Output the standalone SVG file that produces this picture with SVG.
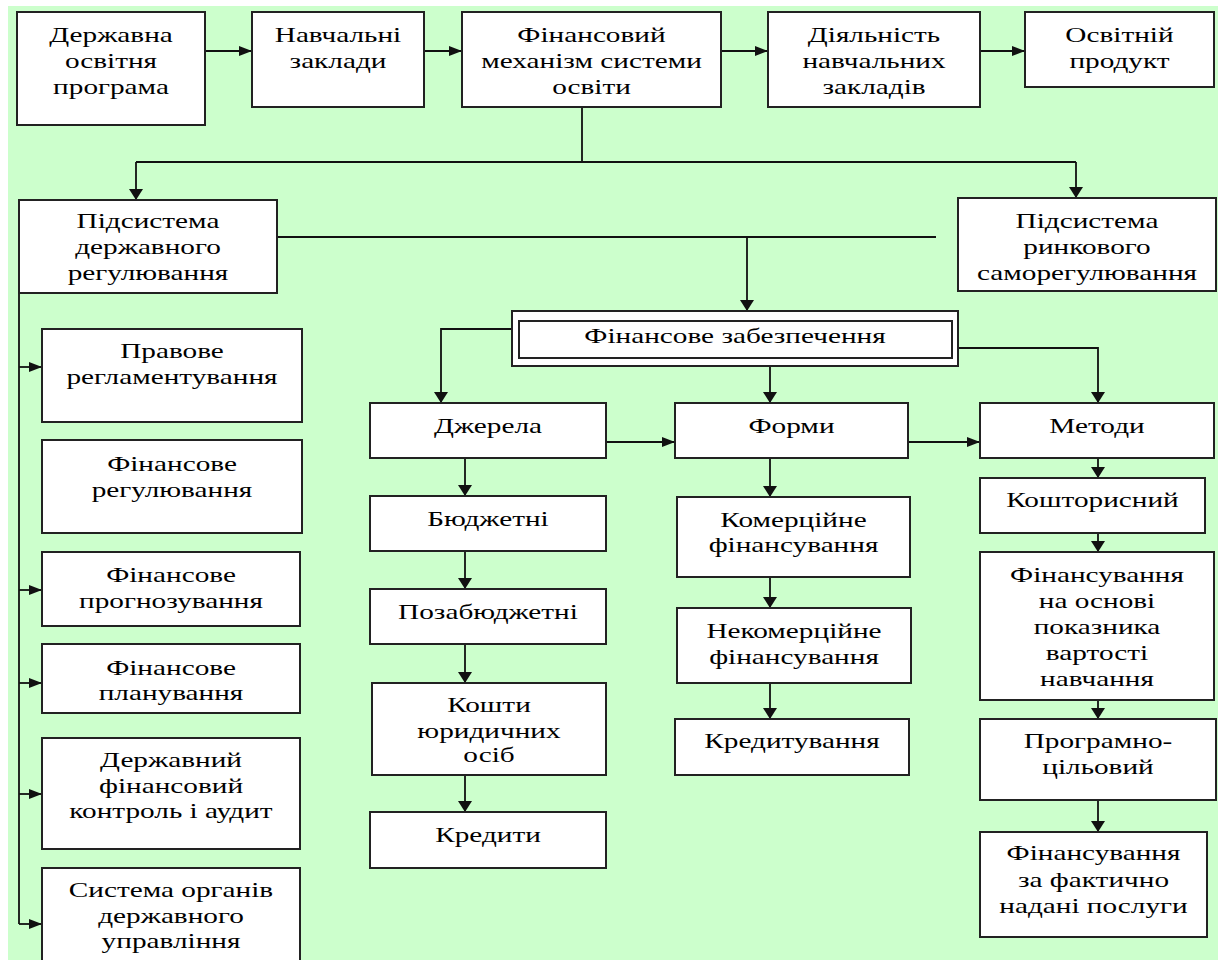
<svg xmlns="http://www.w3.org/2000/svg" width="1218" height="960" viewBox="0 0 1218 960">
<style>
.bg{fill:#ffffff}
.green{fill:#ccffcc}
.box{fill:#ffffff;stroke:#222222;stroke-width:2}
.t{font-family:"Liberation Serif","Times New Roman",serif;font-size:22px;fill:#000000;text-anchor:middle}
.c{fill:none;stroke:#111111;stroke-width:1.8}
.ch{fill:none;stroke:#111111;stroke-width:1.8;marker-end:url(#ah)}
.cv{fill:none;stroke:#111111;stroke-width:1.8;marker-end:url(#av)}
</style>
<defs>
<marker id="ah" markerUnits="userSpaceOnUse" markerWidth="13" markerHeight="10" refX="13" refY="5" orient="auto">
<path d="M0,0 L13,5 L0,10 z" fill="#111111"/>
</marker>
<marker id="av" markerUnits="userSpaceOnUse" markerWidth="11" markerHeight="14" refX="11" refY="7" orient="auto">
<path d="M0,0 L11,7 L0,14 z" fill="#111111"/>
</marker>
</defs>
<rect class="bg" x="0" y="0" width="1218" height="960"/>
<rect class="green" x="8" y="6" width="1210" height="954"/>

<g id="connectors">
<path class="ch" d="M205,51 H252"/>
<path class="ch" d="M424,51 H462"/>
<path class="ch" d="M721,51 H768"/>
<path class="ch" d="M980,51 H1025"/>
<path class="c" d="M582,107 V162 M136,162 H1076"/>
<path class="cv" d="M136,162 V200"/>
<path class="cv" d="M1076,162 V198"/>
<path class="c" d="M277,237 H936"/>
<path class="cv" d="M747,237 V311"/>
<path class="c" d="M19,293 V924"/>
<path class="ch" d="M19,367 H42"/>
<path class="ch" d="M19,590 H42"/>
<path class="ch" d="M19,683 H42"/>
<path class="ch" d="M19,794 H42"/>
<path class="ch" d="M19,924 H42"/>
<path class="cv" d="M512,329 H441 V403"/>
<path class="cv" d="M770,366 V403"/>
<path class="cv" d="M958,348 H1098 V403"/>
<path class="ch" d="M606,442 H675"/>
<path class="ch" d="M908,442 H980"/>
<path class="cv" d="M465,458 V496"/>
<path class="cv" d="M465,551 V589"/>
<path class="cv" d="M465,644 V683"/>
<path class="cv" d="M465,775 V812"/>
<path class="cv" d="M770,458 V497"/>
<path class="cv" d="M770,577 V608"/>
<path class="cv" d="M770,683 V719"/>
<path class="cv" d="M1098,458 V478"/>
<path class="cv" d="M1098,533 V552"/>
<path class="cv" d="M1098,700 V719"/>
<path class="cv" d="M1098,800 V832"/>
</g>

<g id="n1"><rect class="box" x="17" y="12" width="188" height="113"/>
<text class="t" transform="translate(111,0) scale(1.33,1)"><tspan x="0" y="42">Державна</tspan><tspan x="0" y="68">освітня</tspan><tspan x="0" y="94">програма</tspan></text></g>
<g id="n2"><rect class="box" x="252" y="12" width="172" height="95"/>
<text class="t" transform="translate(338,0) scale(1.33,1)"><tspan x="0" y="42">Навчальні</tspan><tspan x="0" y="68">заклади</tspan></text></g>
<g id="n3"><rect class="box" x="462" y="12" width="259" height="95"/>
<text class="t" transform="translate(591.5,0) scale(1.33,1)"><tspan x="0" y="42">Фінансовий</tspan><tspan x="0" y="68">механізм системи</tspan><tspan x="0" y="94">освіти</tspan></text></g>
<g id="n4"><rect class="box" x="768" y="12" width="212" height="95"/>
<text class="t" transform="translate(874,0) scale(1.33,1)"><tspan x="0" y="42">Діяльність</tspan><tspan x="0" y="68">навчальних</tspan><tspan x="0" y="94">закладів</tspan></text></g>
<g id="n5"><rect class="box" x="1025" y="12" width="189" height="75"/>
<text class="t" transform="translate(1119.5,0) scale(1.33,1)"><tspan x="0" y="42">Освітній</tspan><tspan x="0" y="68">продукт</tspan></text></g>
<g id="n6"><rect class="box" x="19" y="200" width="258" height="93"/>
<text class="t" transform="translate(148,0) scale(1.33,1)"><tspan x="0" y="228">Підсистема</tspan><tspan x="0" y="254">державного</tspan><tspan x="0" y="280">регулювання</tspan></text></g>
<g id="n7"><rect class="box" x="958" y="198" width="258" height="93"/>
<text class="t" transform="translate(1087,0) scale(1.33,1)"><tspan x="0" y="228">Підсистема</tspan><tspan x="0" y="254">ринкового</tspan><tspan x="0" y="280">саморегулювання</tspan></text></g>
<g id="n8"><rect class="box" x="512" y="311" width="446" height="55"/><rect class="box" x="519" y="321" width="433" height="37"/>
<text class="t" transform="translate(735,0) scale(1.33,1)"><tspan x="0" y="343">Фінансове забезпечення</tspan></text></g>
<g id="n9"><rect class="box" x="42" y="329" width="260" height="93"/>
<text class="t" transform="translate(172,0) scale(1.33,1)"><tspan x="0" y="358">Правове</tspan><tspan x="0" y="384">регламентування</tspan></text></g>
<g id="n10"><rect class="box" x="42" y="440" width="260" height="93"/>
<text class="t" transform="translate(172,0) scale(1.33,1)"><tspan x="0" y="471">Фінансове</tspan><tspan x="0" y="497">регулювання</tspan></text></g>
<g id="n11"><rect class="box" x="42" y="552" width="258" height="74"/>
<text class="t" transform="translate(171,0) scale(1.33,1)"><tspan x="0" y="582">Фінансове</tspan><tspan x="0" y="608">прогнозування</tspan></text></g>
<g id="n12"><rect class="box" x="42" y="644" width="258" height="69"/>
<text class="t" transform="translate(171,0) scale(1.33,1)"><tspan x="0" y="675">Фінансове</tspan><tspan x="0" y="700">планування</tspan></text></g>
<g id="n13"><rect class="box" x="42" y="738" width="258" height="111"/>
<text class="t" transform="translate(171,0) scale(1.33,1)"><tspan x="0" y="767">Державний</tspan><tspan x="0" y="793">фінансовий</tspan><tspan x="0" y="818">контроль і аудит</tspan></text></g>
<g id="n14"><rect class="box" x="42" y="868" width="258" height="100"/>
<text class="t" transform="translate(171,0) scale(1.33,1)"><tspan x="0" y="897">Система органів</tspan><tspan x="0" y="923">державного</tspan><tspan x="0" y="948">управління</tspan></text></g>
<g id="n15"><rect class="box" x="370" y="403" width="236" height="55"/>
<text class="t" transform="translate(488,0) scale(1.33,1)"><tspan x="0" y="433">Джерела</tspan></text></g>
<g id="n16"><rect class="box" x="370" y="496" width="236" height="55"/>
<text class="t" transform="translate(488,0) scale(1.33,1)"><tspan x="0" y="526">Бюджетні</tspan></text></g>
<g id="n17"><rect class="box" x="370" y="589" width="236" height="55"/>
<text class="t" transform="translate(488,0) scale(1.33,1)"><tspan x="0" y="619">Позабюджетні</tspan></text></g>
<g id="n18"><rect class="box" x="372" y="683" width="234" height="92"/>
<text class="t" transform="translate(489,0) scale(1.33,1)"><tspan x="0" y="712">Кошти</tspan><tspan x="0" y="738">юридичних</tspan><tspan x="0" y="762">осіб</tspan></text></g>
<g id="n19"><rect class="box" x="370" y="812" width="236" height="56"/>
<text class="t" transform="translate(488,0) scale(1.33,1)"><tspan x="0" y="842">Кредити</tspan></text></g>
<g id="n20"><rect class="box" x="675" y="403" width="233" height="55"/>
<text class="t" transform="translate(791.5,0) scale(1.33,1)"><tspan x="0" y="433">Форми</tspan></text></g>
<g id="n21"><rect class="box" x="677" y="497" width="233" height="80"/>
<text class="t" transform="translate(793.5,0) scale(1.33,1)"><tspan x="0" y="527">Комерційне</tspan><tspan x="0" y="552">фінансування</tspan></text></g>
<g id="n22"><rect class="box" x="677" y="608" width="234" height="75"/>
<text class="t" transform="translate(794,0) scale(1.33,1)"><tspan x="0" y="638">Некомерційне</tspan><tspan x="0" y="664">фінансування</tspan></text></g>
<g id="n23"><rect class="box" x="675" y="719" width="234" height="56"/>
<text class="t" transform="translate(792,0) scale(1.33,1)"><tspan x="0" y="748">Кредитування</tspan></text></g>
<g id="n24"><rect class="box" x="980" y="403" width="234" height="55"/>
<text class="t" transform="translate(1097,0) scale(1.33,1)"><tspan x="0" y="433">Методи</tspan></text></g>
<g id="n25"><rect class="box" x="980" y="478" width="225" height="55"/>
<text class="t" transform="translate(1092.5,0) scale(1.33,1)"><tspan x="0" y="507">Кошторисний</tspan></text></g>
<g id="n26"><rect class="box" x="980" y="552" width="234" height="148"/>
<text class="t" transform="translate(1097,0) scale(1.33,1)"><tspan x="0" y="582">Фінансування</tspan><tspan x="0" y="608">на основі</tspan><tspan x="0" y="634">показника</tspan><tspan x="0" y="660">вартості</tspan><tspan x="0" y="686">навчання</tspan></text></g>
<g id="n27"><rect class="box" x="980" y="719" width="236" height="81"/>
<text class="t" transform="translate(1098,0) scale(1.33,1)"><tspan x="0" y="748">Програмно-</tspan><tspan x="0" y="774">цільовий</tspan></text></g>
<g id="n28"><rect class="box" x="980" y="832" width="227" height="105"/>
<text class="t" transform="translate(1093.5,0) scale(1.33,1)"><tspan x="0" y="860">Фінансування</tspan><tspan x="0" y="887">за фактично</tspan><tspan x="0" y="913">надані послуги</tspan></text></g>
</svg>
